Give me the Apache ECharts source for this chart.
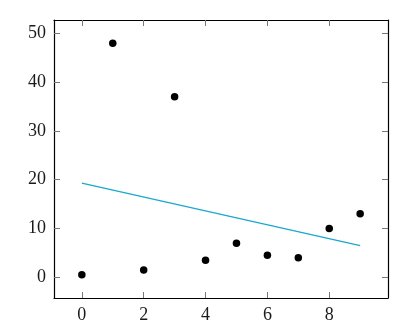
<!DOCTYPE html>
<html>
<head>
<meta charset="utf-8">
<script src="https://cdn.jsdelivr.net/npm/echarts@6/dist/echarts.min.js"></script>
<style>
html,body{margin:0;padding:0;background:#fff;}
#chart{width:416px;height:332px;}
</style>
</head>
<body>
<div id="chart"></div>
<script>
var xValues = [0, 1, 2, 3, 4, 5, 6, 7, 8, 9];
var yValues = [0.5, 48, 1.5, 37, 3.5, 7, 4.5, 4, 10, 13];
var fitX = [0, 9];
var fitY = [19.3, 6.5];
var xTicks = [0, 2, 4, 6, 8];
var yTicks = [0, 10, 20, 30, 40, 50];

var font = "'Liberation Serif', 'Times New Roman', serif";
var chart = echarts.init(document.getElementById('chart'), null, {renderer: 'canvas'});

function axis(pos, showLabel, min, max, ticks) {
  return {
    type: 'value',
    position: pos,
    min: min,
    max: max,
    splitLine: {show: false},
    axisLine: {show: true, onZero: false, lineStyle: {color: '#000', width: 1.2}},
    axisTick: {show: true, inside: true, length: 6, customValues: ticks, lineStyle: {color: '#777', width: 1}},
    axisLabel: {show: showLabel, customValues: ticks, color: '#1a1a1a', fontFamily: font, fontSize: 18, margin: 8},
    gridIndex: 0
  };
}

chart.setOption({
  animation: false,
  backgroundColor: '#fff',
  grid: {left: 54, right: 28, top: 20, bottom: 34, containLabel: false},
  xAxis: [
    axis('bottom', true, -0.9, 9.9, xTicks),
    axis('top', false, -0.9, 9.9, xTicks)
  ],
  yAxis: [
    axis('left', true, -4.25, 52.75, yTicks),
    axis('right', false, -4.25, 52.75, yTicks)
  ],
  series: [
    {
      type: 'line',
      data: fitX.map(function (x, i) { return [x, fitY[i]]; }),
      showSymbol: false,
      lineStyle: {color: '#19a9cc', width: 1.4},
      z: 2
    },
    {
      type: 'scatter',
      data: xValues.map(function (x, i) { return [x, yValues[i]]; }),
      symbol: 'circle',
      symbolSize: 7.5,
      itemStyle: {color: '#000', opacity: 1},
      z: 3
    }
  ]
});
</script>
</body>
</html>
